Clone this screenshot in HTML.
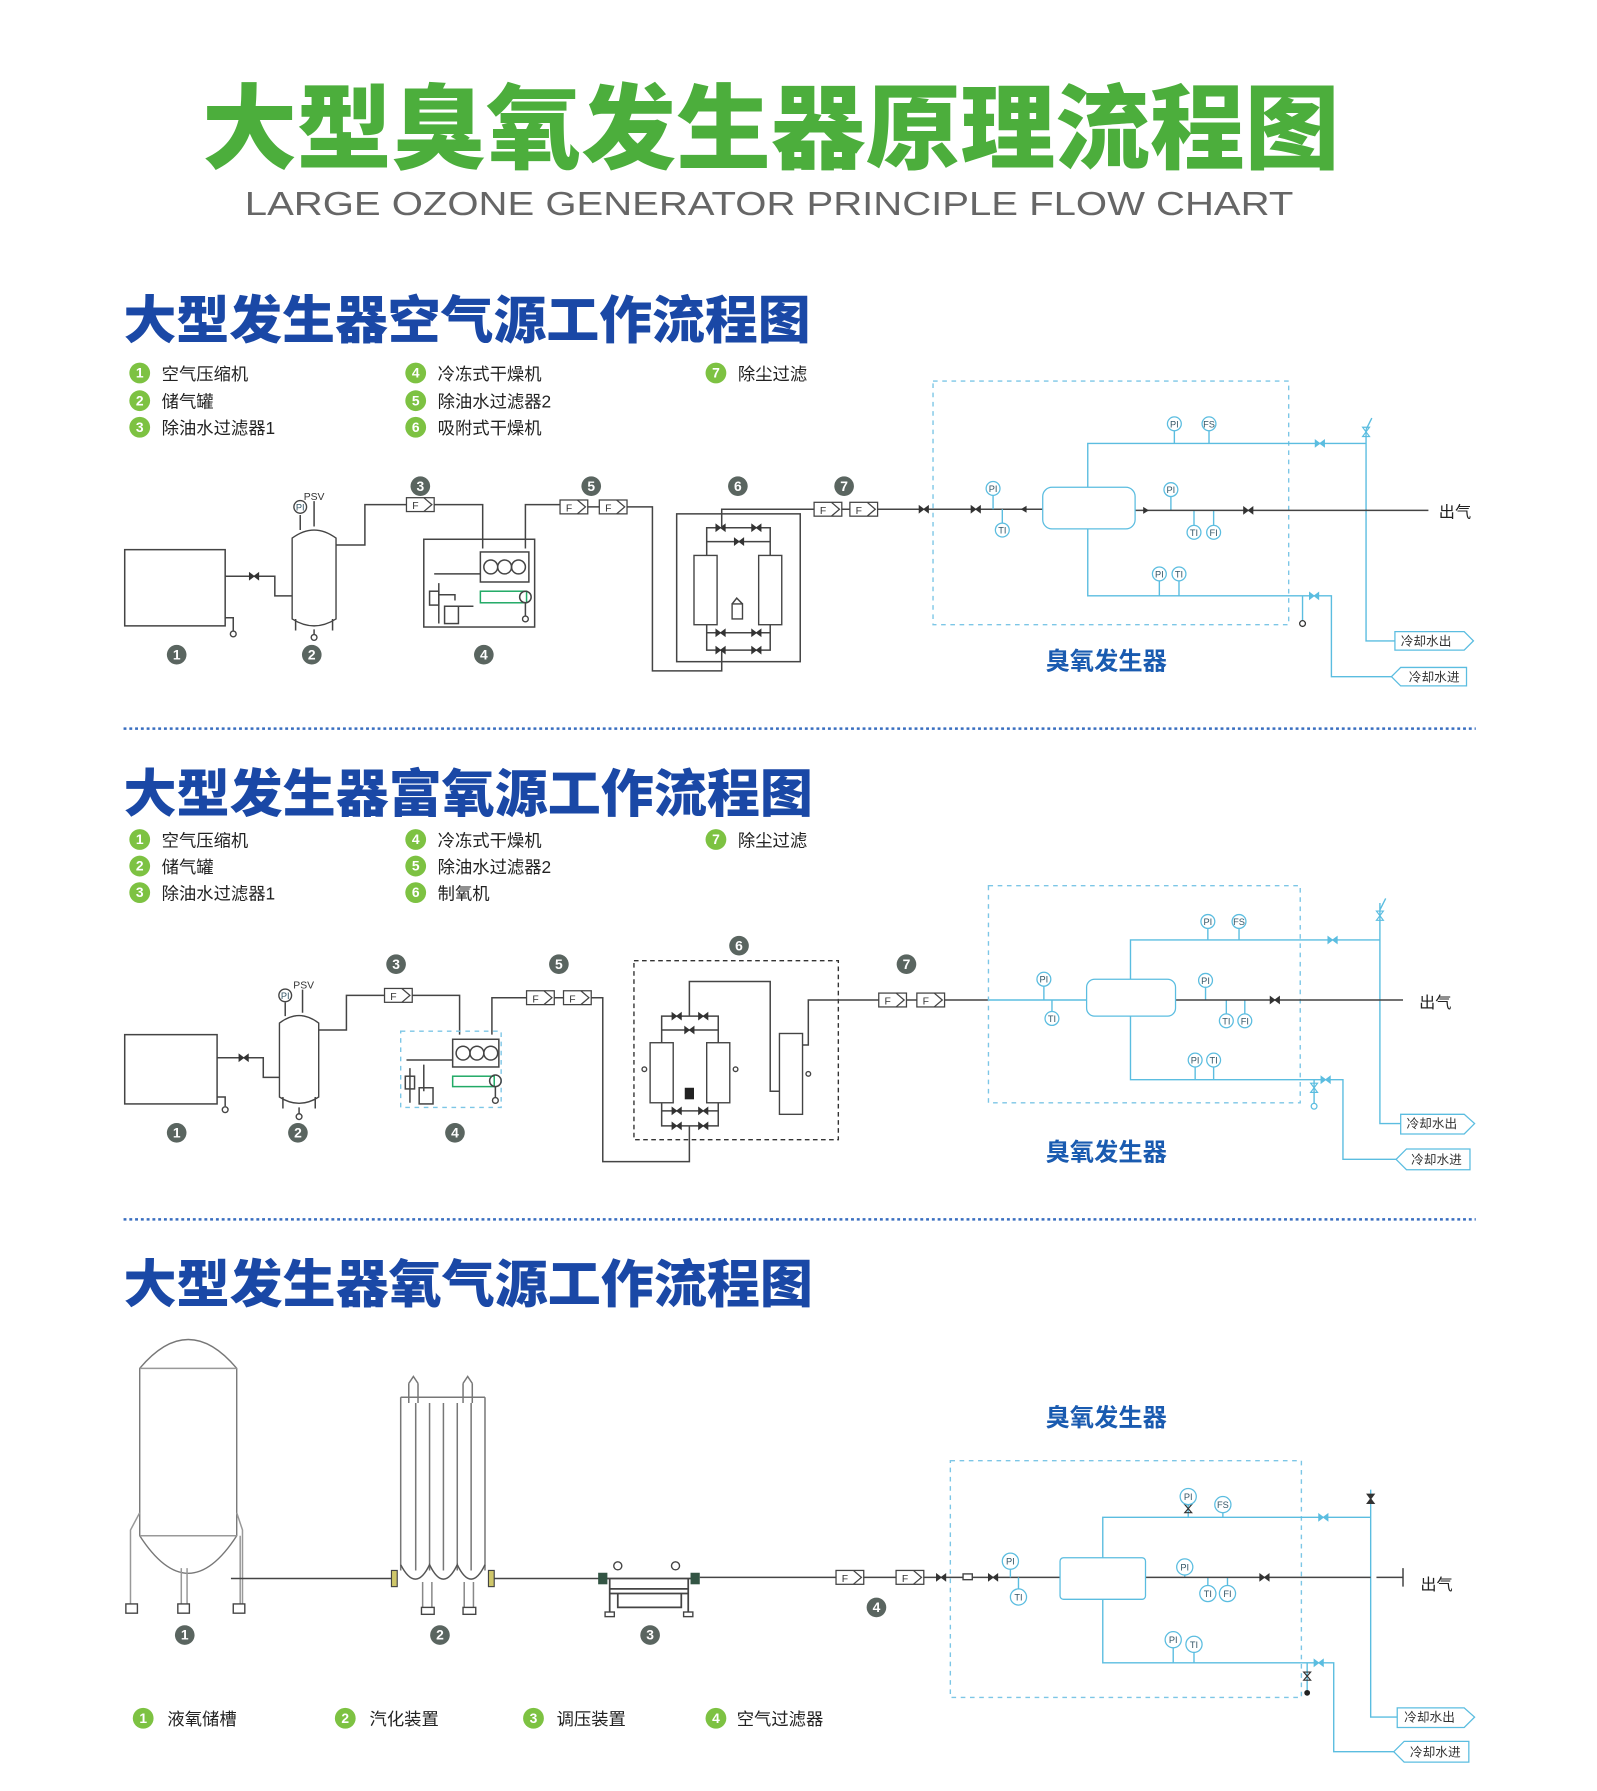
<!DOCTYPE html>
<html><head><meta charset="utf-8"><style>
html,body{margin:0;padding:0;background:#fff;}
svg{display:block;}
text{font-family:"Liberation Sans","Noto Sans CJK SC",sans-serif;}
.k{stroke:#444;stroke-width:1.3;fill:none}
.kf{stroke:#444;stroke-width:1.2;fill:#fff}
.b{stroke:#5bbde0;stroke-width:1.2;fill:none}
.bf{stroke:#5bbde0;stroke-width:1.1;fill:#fff}
.dash{stroke:#7cc6e6;stroke-width:1.2;fill:none;stroke-dasharray:4 4}
.kd{stroke:#333;stroke-width:1.2;fill:none;stroke-dasharray:4 3}
.lg{font-size:15px;fill:#222}
.gn{font-size:12px;fill:#fff;font-weight:bold;text-anchor:middle}
.ins{font-size:8px;fill:#356;text-anchor:middle}
.ft{font-size:9px;fill:#333}
.sec{font-size:45px;font-weight:900;fill:#1a48a6}
.lab{font-size:21px;font-weight:bold;fill:#1a5bb0;text-anchor:middle}
.cw{font-size:11px;fill:#333}
</style></head><body>
<svg width="1597" height="1791" viewBox="0 0 1383 1551" xmlns="http://www.w3.org/2000/svg">
<defs>
<g id="v"><path d="M-4,-3 L4,3 L4,-3 L-4,3 Z" fill="#333" stroke="#333" stroke-width="0.8"/></g>
<g id="vb"><path d="M-4,-3 L4,3 L4,-3 L-4,3 Z" fill="#5bbde0" stroke="#5bbde0" stroke-width="0.8"/></g>
<g id="fl"><rect x="0" y="-6" width="24" height="12" fill="#fff" stroke="#444" stroke-width="1.1"/><path d="M15,-6 L22,0 L15,6" fill="none" stroke="#444" stroke-width="1.1"/></g>
<g id="gc"><circle r="9" fill="#7dc242"/></g>
<g id="nc"><circle r="8.5" fill="#5a6560"/></g>
</defs>

<text x="175" y="140" font-size="80" font-weight="900" fill="#4cae3c" textLength="985" lengthAdjust="spacingAndGlyphs">大型臭氧发生器原理流程图</text>
<text x="212" y="186" font-size="29" fill="#666" textLength="908" lengthAdjust="spacingAndGlyphs">LARGE OZONE GENERATOR PRINCIPLE FLOW CHART</text>

<!-- ============ SECTION 1 ============ -->
<text class="sec" x="107" y="293" textLength="595" lengthAdjust="spacingAndGlyphs">大型发生器空气源工作流程图</text>
<g>
<use href="#gc" x="121" y="323"/><text class="gn" x="121" y="327">1</text><text class="lg" x="140" y="329">空气压缩机</text>
<use href="#gc" x="121" y="347"/><text class="gn" x="121" y="351">2</text><text class="lg" x="140" y="353">储气罐</text>
<use href="#gc" x="121" y="370"/><text class="gn" x="121" y="374">3</text><text class="lg" x="140" y="376">除油水过滤器1</text>
<use href="#gc" x="360" y="323"/><text class="gn" x="360" y="327">4</text><text class="lg" x="379" y="329">冷冻式干燥机</text>
<use href="#gc" x="360" y="347"/><text class="gn" x="360" y="351">5</text><text class="lg" x="379" y="353">除油水过滤器2</text>
<use href="#gc" x="360" y="370"/><text class="gn" x="360" y="374">6</text><text class="lg" x="379" y="376">吸附式干燥机</text>
<use href="#gc" x="620" y="323"/><text class="gn" x="620" y="327">7</text><text class="lg" x="639" y="329">除尘过滤</text>
</g>
<rect class="k" x="108" y="476" width="87" height="66"/>
<path class="k" d="M195,499 H238 V516 H253"/><use href="#v" x="220" y="499"/>
<path class="k" d="M195,535 H202 V546"/><circle class="kf" cx="202" cy="549" r="2.5"/>
<path class="kf" d="M253,466 Q272,452 291,466 V536 Q272,548 253,536 Z"/>
<path class="k" d="M256,536 V546 M288,536 V546 M272,545 V550"/><circle class="kf" cx="272" cy="552" r="2.5"/>
<path class="k" d="M260,446 V459 M272,434 V456"/>
<circle class="kf" cx="260" cy="439" r="5.5"/><text class="ins" x="260" y="442">PI</text>
<text x="263" y="433" font-size="9" fill="#333">PSV</text>
<path class="k" d="M291,472 H316 V437 H352"/><use href="#fl" x="352" y="437"/><text class="ft" x="357" y="441">F</text>
<path class="k" d="M376,437 H418 V475"/>
<rect class="k" x="367" y="467" width="96" height="76"/>
<rect class="k" x="416" y="478" width="42" height="26"/>
<circle class="k" cx="425" cy="491" r="6"/><circle class="k" cx="437" cy="491" r="6"/><circle class="k" cx="449" cy="491" r="6"/>
<rect class="k" x="416" y="512" width="40" height="10" style="stroke:#2a6"/><circle class="k" cx="455" cy="517" r="5"/>
<path class="k" d="M376,497 H416 M380,505 V540 M380,515 H394 V520 M395,525 H410 M455,522 V533"/><circle class="kf" cx="455" cy="536" r="2.5"/>
<rect class="k" x="372" y="512" width="8" height="12"/><rect class="k" x="385" y="525" width="12" height="15"/>
<path class="k" d="M455,475 V437 H485"/><use href="#fl" x="485" y="439"/><text class="ft" x="490" y="443">F</text>
<use href="#fl" x="519" y="439"/><text class="ft" x="524" y="443">F</text>
<path class="k" d="M509,439 H519 M543,439 H565 V581 H625 V563"/>
<rect class="k" x="586" y="445" width="107" height="128"/>
<rect class="kf" x="601" y="481" width="20" height="60"/><rect class="kf" x="657" y="481" width="20" height="60"/>
<path class="k" d="M612,481 V457 H667 V481 M612,469 H667 M612,541 V563 H667 V541 M612,548 H667"/>
<use href="#v" x="624" y="457"/><use href="#v" x="655" y="457"/><use href="#v" x="640" y="469"/>
<use href="#v" x="624" y="548"/><use href="#v" x="655" y="548"/><use href="#v" x="624" y="563"/><use href="#v" x="655" y="563"/>
<rect class="kf" x="634" y="523" width="9" height="13"/><path class="k" d="M634,523 L638,518 L643,523"/>
<path class="k" d="M625,457 V441 H705"/>
<use href="#fl" x="705" y="441"/><text class="ft" x="710" y="445">F</text>
<use href="#fl" x="736" y="441"/><text class="ft" x="741" y="445">F</text>
<path class="k" d="M729,441 H736 M760,441 H903"/><use href="#v" x="800" y="441"/><use href="#v" x="845" y="441"/>
<path d="M884,441 l5,-3 v6 z" fill="#333"/>
<use href="#nc" x="364" y="421"/><text class="gn" x="364" y="425">3</text>
<use href="#nc" x="512" y="421"/><text class="gn" x="512" y="425">5</text>
<use href="#nc" x="639" y="421"/><text class="gn" x="639" y="425">6</text>
<use href="#nc" x="731" y="421"/><text class="gn" x="731" y="425">7</text>
<use href="#nc" x="153" y="567"/><text class="gn" x="153" y="571">1</text>
<use href="#nc" x="270" y="567"/><text class="gn" x="270" y="571">2</text>
<use href="#nc" x="419" y="567"/><text class="gn" x="419" y="571">4</text>
<rect class="dash" x="808" y="330" width="308" height="211"/>
<path class="b" d="M860,429 V441 M868,441 V453 M942,422 V384 H1183 M1183,372 V555 H1208 M1017,373 V384 M1047,373 V384 M942,458 V516 H1153 V586 H1210 M1128,516 V537 M1004,503 V516 M1021,503 V516 M1014,430 V442 M1034,442 V455 M1051,442 V455 M1183,372 L1188,362"/>
<path class="k" d="M983,442 H1237"/><path d="M995,442 l-5,-3 v6 z" fill="#333"/><use href="#v" x="1081" y="442"/>
<use href="#vb" x="1143" y="384"/><use href="#vb" x="1138" y="516"/>
<path d="M1180,370 h6 l-6,8 h6 z" fill="none" stroke="#5bbde0"/>
<circle class="bf" cx="1128" cy="540" r="2.5" style="stroke:#333"/>
<rect class="bf" x="903" y="422" width="80" height="36" rx="8"/>
<g>
<circle class="bf" cx="860" cy="423" r="6"/><text class="ins" x="860" y="426">PI</text>
<circle class="bf" cx="868" cy="459" r="6"/><text class="ins" x="868" y="462">TI</text>
<circle class="bf" cx="1014" cy="424" r="6"/><text class="ins" x="1014" y="427">PI</text>
<circle class="bf" cx="1034" cy="461" r="6"/><text class="ins" x="1034" y="464">TI</text>
<circle class="bf" cx="1051" cy="461" r="6"/><text class="ins" x="1051" y="464">FI</text>
<circle class="bf" cx="1017" cy="367" r="6"/><text class="ins" x="1017" y="370">PI</text>
<circle class="bf" cx="1047" cy="367" r="6"/><text class="ins" x="1047" y="370">FS</text>
<circle class="bf" cx="1004" cy="497" r="6"/><text class="ins" x="1004" y="500">PI</text>
<circle class="bf" cx="1021" cy="497" r="6"/><text class="ins" x="1021" y="500">TI</text>
</g>
<text x="1246" y="448" font-size="14" fill="#222">出气</text>
<path class="bf" d="M1208,547 H1268 L1276,555 L1268,563 H1208 Z"/><text class="cw" x="1213" y="559">冷却水出</text>
<path class="bf" d="M1270,578 H1213 L1205,586 L1213,594 H1270 Z"/><text class="cw" x="1220" y="590">冷却水进</text>
<text class="lab" x="958" y="580">臭氧发生器</text>
<line x1="107" y1="631" x2="1278" y2="631" stroke="#3a6fc0" stroke-width="2.2" stroke-dasharray="2.5 2.5"/>

<!-- ============ SECTION 2 ============ -->
<text class="sec" x="107" y="703" textLength="597" lengthAdjust="spacingAndGlyphs">大型发生器富氧源工作流程图</text>
<g>
<use href="#gc" x="121" y="727"/><text class="gn" x="121" y="731">1</text><text class="lg" x="140" y="733">空气压缩机</text>
<use href="#gc" x="121" y="750"/><text class="gn" x="121" y="754">2</text><text class="lg" x="140" y="756">储气罐</text>
<use href="#gc" x="121" y="773"/><text class="gn" x="121" y="777">3</text><text class="lg" x="140" y="779">除油水过滤器1</text>
<use href="#gc" x="360" y="727"/><text class="gn" x="360" y="731">4</text><text class="lg" x="379" y="733">冷冻式干燥机</text>
<use href="#gc" x="360" y="750"/><text class="gn" x="360" y="754">5</text><text class="lg" x="379" y="756">除油水过滤器2</text>
<use href="#gc" x="360" y="773"/><text class="gn" x="360" y="777">6</text><text class="lg" x="379" y="779">制氧机</text>
<use href="#gc" x="620" y="727"/><text class="gn" x="620" y="731">7</text><text class="lg" x="639" y="733">除尘过滤</text>
</g>
<rect class="k" x="108" y="896" width="80" height="60"/>
<path class="k" d="M188,916 H228 V933 H242"/><use href="#v" x="211" y="916"/>
<path class="k" d="M188,950 H195 V958"/><circle class="kf" cx="195" cy="961" r="2.5"/>
<path class="kf" d="M242,886 Q259,873 276,886 V950 Q259,961 242,950 Z"/>
<path class="k" d="M245,950 V960 M273,950 V960 M259,959 V965"/><circle class="kf" cx="259" cy="967" r="2.5"/>
<path class="k" d="M247,868 V880 M262,857 V877"/>
<circle class="kf" cx="247" cy="862" r="5.5"/><text class="ins" x="247" y="865">PI</text>
<text x="254" y="856" font-size="9" fill="#333">PSV</text>
<path class="k" d="M276,892 H300 V862 H333"/><use href="#fl" x="333" y="862"/><text class="ft" x="338" y="866">F</text>
<path class="k" d="M357,862 H398 V896"/>
<rect class="dash" x="347" y="893" width="87" height="66"/>
<rect class="k" x="392" y="900" width="40" height="24"/>
<circle class="k" cx="401" cy="912" r="6"/><circle class="k" cx="413" cy="912" r="6"/><circle class="k" cx="425" cy="912" r="6"/>
<rect class="k" x="392" y="932" width="36" height="9" style="stroke:#2a6"/><circle class="k" cx="429" cy="936" r="5"/>
<path class="k" d="M352,918 H392 M355,925 V955 M367,922 V945 M429,941 V950"/><circle class="kf" cx="429" cy="953" r="2.5"/>
<rect class="k" x="351" y="932" width="8" height="11"/><rect class="k" x="363" y="942" width="12" height="14"/>
<path class="k" d="M426,896 V864 H456"/><use href="#fl" x="456" y="864"/><text class="ft" x="461" y="868">F</text>
<use href="#fl" x="488" y="864"/><text class="ft" x="493" y="868">F</text>
<path class="k" d="M480,864 H488 M512,864 H522 V1006 H597 V975"/>
<rect class="kd" x="549" y="832" width="177" height="155"/>
<rect class="kf" x="563" y="903" width="20" height="52"/><rect class="kf" x="612" y="903" width="20" height="52"/>
<rect class="kf" x="675" y="895" width="20" height="70"/>
<path class="k" d="M573,903 V880 H622 V903 M573,892 H622 M573,955 V975 H622 V955 M573,962 H622"/>
<use href="#v" x="586" y="880"/><use href="#v" x="609" y="880"/><use href="#v" x="597" y="892"/>
<use href="#v" x="586" y="962"/><use href="#v" x="609" y="962"/><use href="#v" x="586" y="975"/><use href="#v" x="609" y="975"/>
<rect x="593" y="942" width="8" height="10" fill="#222"/>
<path class="k" d="M597,880 V850 H667 V945 H675 M695,905 H700 V866 H761"/>
<circle class="kf" cx="558" cy="926" r="2"/><circle class="kf" cx="637" cy="926" r="2"/><circle class="kf" cx="700" cy="930" r="2"/>
<use href="#fl" x="761" y="866"/><text class="ft" x="766" y="870">F</text>
<use href="#fl" x="794" y="866"/><text class="ft" x="799" y="870">F</text>
<path class="k" d="M785,866 H794 M818,866 H856"/><path class="b" d="M856,866 H941"/>
<use href="#nc" x="343" y="835"/><text class="gn" x="343" y="839">3</text>
<use href="#nc" x="484" y="835"/><text class="gn" x="484" y="839">5</text>
<use href="#nc" x="640" y="819"/><text class="gn" x="640" y="823">6</text>
<use href="#nc" x="785" y="835"/><text class="gn" x="785" y="839">7</text>
<use href="#nc" x="153" y="981"/><text class="gn" x="153" y="985">1</text>
<use href="#nc" x="258" y="981"/><text class="gn" x="258" y="985">2</text>
<use href="#nc" x="394" y="981"/><text class="gn" x="394" y="985">4</text>
<rect class="dash" x="856" y="767" width="270" height="188"/>
<path class="b" d="M904,854 V866 M911,866 V876 M979,848 V814 H1195 M1195,782 V973 H1213 M1046,804 V814 M1073,804 V814 M979,880 V935 H1163 V1004 H1210 M1138,935 V956 M1035,924 V935 M1051,924 V935 M1044,855 V866 M1062,866 V878 M1078,866 V878 M1195,788 L1200,778"/>
<path class="k" d="M1018,866 H1215"/><use href="#v" x="1104" y="866"/>
<use href="#vb" x="1154" y="814"/><use href="#vb" x="1148" y="935"/>
<path d="M1192,789 h6 l-6,8 h6 z" fill="none" stroke="#5bbde0"/>
<path d="M1135,938 h6 l-6,8 h6 z" fill="none" stroke="#5bbde0"/>
<circle class="bf" cx="1138" cy="958" r="2.5"/>
<rect class="bf" x="941" y="848" width="77" height="32" rx="7"/>
<g>
<circle class="bf" cx="904" cy="848" r="6"/><text class="ins" x="904" y="851">PI</text>
<circle class="bf" cx="911" cy="882" r="6"/><text class="ins" x="911" y="885">TI</text>
<circle class="bf" cx="1044" cy="849" r="6"/><text class="ins" x="1044" y="852">PI</text>
<circle class="bf" cx="1062" cy="884" r="6"/><text class="ins" x="1062" y="887">TI</text>
<circle class="bf" cx="1078" cy="884" r="6"/><text class="ins" x="1078" y="887">FI</text>
<circle class="bf" cx="1046" cy="798" r="6"/><text class="ins" x="1046" y="801">PI</text>
<circle class="bf" cx="1073" cy="798" r="6"/><text class="ins" x="1073" y="801">FS</text>
<circle class="bf" cx="1035" cy="918" r="6"/><text class="ins" x="1035" y="921">PI</text>
<circle class="bf" cx="1051" cy="918" r="6"/><text class="ins" x="1051" y="921">TI</text>
</g>
<text x="1229" y="873" font-size="14" fill="#222">出气</text>
<path class="bf" d="M1213,965 H1268 L1277,973 L1268,982 H1213 Z"/><text class="cw" x="1218" y="977">冷却水出</text>
<path class="bf" d="M1273,995 H1218 L1209,1004 L1218,1013 H1273 Z"/><text class="cw" x="1222" y="1008">冷却水进</text>
<text class="lab" x="958" y="1005">臭氧发生器</text>
<line x1="107" y1="1056" x2="1278" y2="1056" stroke="#3a6fc0" stroke-width="2.2" stroke-dasharray="2.5 2.5"/>

<!-- ============ SECTION 3 ============ -->
<text class="sec" x="107" y="1128" textLength="597" lengthAdjust="spacingAndGlyphs">大型发生器氧气源工作流程图</text>
<path class="kf" d="M121,1185 Q163,1135 205,1185 V1330 Q163,1395 121,1330 Z" style="stroke:#777"/>
<path class="k" d="M121,1185 H205 M121,1330 H205" style="stroke:#999"/>
<path class="k" d="M121,1310 L113,1325 V1390 M205,1310 L210,1325 V1390 M157,1358 V1390 M162,1358 V1390 M208,1330 V1390" style="stroke:#999"/>
<rect class="kf" x="109" y="1389" width="10" height="8"/><rect class="kf" x="154" y="1389" width="10" height="8"/><rect class="kf" x="202" y="1389" width="10" height="8"/>
<path class="k" d="M200,1367 H340"/>
<path class="k" d="M347,1210 H420 M347,1210 V1360 M420,1210 V1360 M360,1215 V1360 M372,1215 V1360 M384,1215 V1360 M396,1215 V1360 M408,1215 V1360 M354,1198 V1215 M362,1198 V1215 M401,1198 V1215 M409,1198 V1215 M354,1198 L358,1192 L362,1198 M401,1198 L405,1192 L409,1198" style="stroke:#777"/>
<path class="k" d="M347,1355 Q360,1380 372,1355 Q384,1380 396,1355 Q408,1380 420,1355" style="stroke:#555"/>
<path class="k" d="M366,1370 V1393 M374,1370 V1393 M402,1370 V1393 M410,1370 V1393" style="stroke:#888"/>
<rect class="kf" x="365" y="1392" width="11" height="6"/><rect class="kf" x="401" y="1392" width="11" height="6"/>
<rect x="339" y="1360" width="5" height="14" fill="#cfc76a" stroke="#444"/><rect x="423" y="1360" width="5" height="14" fill="#cfc76a" stroke="#444"/>
<path class="k" d="M428,1367 H520"/>
<path class="k" d="M520,1367 H605 M528,1367 V1397 M596,1367 V1397 M528,1376 H596 M528,1380 H596 M535,1380 V1392 H590 V1380" style="stroke-width:1.5"/>
<rect x="518" y="1362" width="8" height="10" fill="#354"/><rect x="598" y="1362" width="8" height="10" fill="#354"/>
<circle class="kf" cx="535" cy="1356" r="3.5"/><circle class="kf" cx="585" cy="1356" r="3.5"/>
<rect class="kf" x="524" y="1396" width="8" height="4"/><rect class="kf" x="592" y="1396" width="8" height="4"/>
<path class="k" d="M606,1366 H724"/>
<use href="#fl" x="724" y="1366"/><text class="ft" x="729" y="1370">F</text>
<use href="#fl" x="776" y="1366"/><text class="ft" x="781" y="1370">F</text>
<path class="k" d="M748,1366 H776 M800,1366 H918"/>
<use href="#v" x="815" y="1366"/><use href="#v" x="860" y="1366"/><rect class="kf" x="834" y="1363" width="8" height="5"/>
<use href="#nc" x="160" y="1416"/><text class="gn" x="160" y="1420">1</text>
<use href="#nc" x="381" y="1416"/><text class="gn" x="381" y="1420">2</text>
<use href="#nc" x="563" y="1416"/><text class="gn" x="563" y="1420">3</text>
<use href="#nc" x="759" y="1392"/><text class="gn" x="759" y="1396">4</text>
<text class="lab" x="958" y="1235">臭氧发生器</text>
<rect class="dash" x="823" y="1265" width="304" height="205"/>
<path class="b" d="M875,1359 V1366 M882,1366 V1376 M955,1349 V1314 H1187 M1187,1290 V1487 H1210 M1029,1303 V1314 M1059,1310 V1314 M955,1385 V1440 H1155 V1517 H1213 M1132,1440 V1465 M1016,1426 V1440 M1034,1430 V1440 M1026,1363 V1366 M1046,1366 V1374 M1063,1366 V1374"/>
<path class="k" d="M992,1366 H1187 M1192,1366 H1215 M1215,1358 V1374"/><use href="#v" x="1095" y="1366"/>
<use href="#vb" x="1146" y="1314"/><use href="#vb" x="1142" y="1440"/>
<path d="M1184,1294 h6 l-6,8 h6 z" fill="#333" stroke="#333"/>
<path d="M1026,1303 h6 l-6,7 h6 z" fill="none" stroke="#333"/>
<path d="M1129,1448 h6 l-6,7 h6 z" fill="none" stroke="#333"/>
<circle cx="1132" cy="1466" r="2.5" fill="#222"/>
<rect class="bf" x="918" y="1349" width="74" height="36" rx="3"/>
<g>
<circle class="bf" cx="875" cy="1352" r="7"/><text class="ins" x="875" y="1355">PI</text>
<circle class="bf" cx="882" cy="1383" r="7"/><text class="ins" x="882" y="1386">TI</text>
<circle class="bf" cx="1026" cy="1357" r="7"/><text class="ins" x="1026" y="1360">PI</text>
<circle class="bf" cx="1046" cy="1380" r="7"/><text class="ins" x="1046" y="1383">TI</text>
<circle class="bf" cx="1063" cy="1380" r="7"/><text class="ins" x="1063" y="1383">FI</text>
<circle class="bf" cx="1029" cy="1296" r="7"/><text class="ins" x="1029" y="1299">PI</text>
<circle class="bf" cx="1059" cy="1303" r="7"/><text class="ins" x="1059" y="1306">FS</text>
<circle class="bf" cx="1016" cy="1420" r="7"/><text class="ins" x="1016" y="1423">PI</text>
<circle class="bf" cx="1034" cy="1424" r="7"/><text class="ins" x="1034" y="1427">TI</text>
</g>
<text x="1230" y="1377" font-size="14" fill="#222">出气</text>
<path class="bf" d="M1210,1479 H1268 L1277,1487 L1268,1496 H1210 Z"/><text class="cw" x="1216" y="1491">冷却水出</text>
<path class="bf" d="M1272,1508 H1216 L1207,1517 L1216,1526 H1272 Z"/><text class="cw" x="1221" y="1521">冷却水进</text>
<g>
<use href="#gc" x="124" y="1488"/><text class="gn" x="124" y="1492">1</text><text class="lg" x="145" y="1494">液氧储槽</text>
<use href="#gc" x="299" y="1488"/><text class="gn" x="299" y="1492">2</text><text class="lg" x="320" y="1494">汽化装置</text>
<use href="#gc" x="462" y="1488"/><text class="gn" x="462" y="1492">3</text><text class="lg" x="482" y="1494">调压装置</text>
<use href="#gc" x="620" y="1488"/><text class="gn" x="620" y="1492">4</text><text class="lg" x="638" y="1494">空气过滤器</text>
</g>
</svg>
</body></html>
